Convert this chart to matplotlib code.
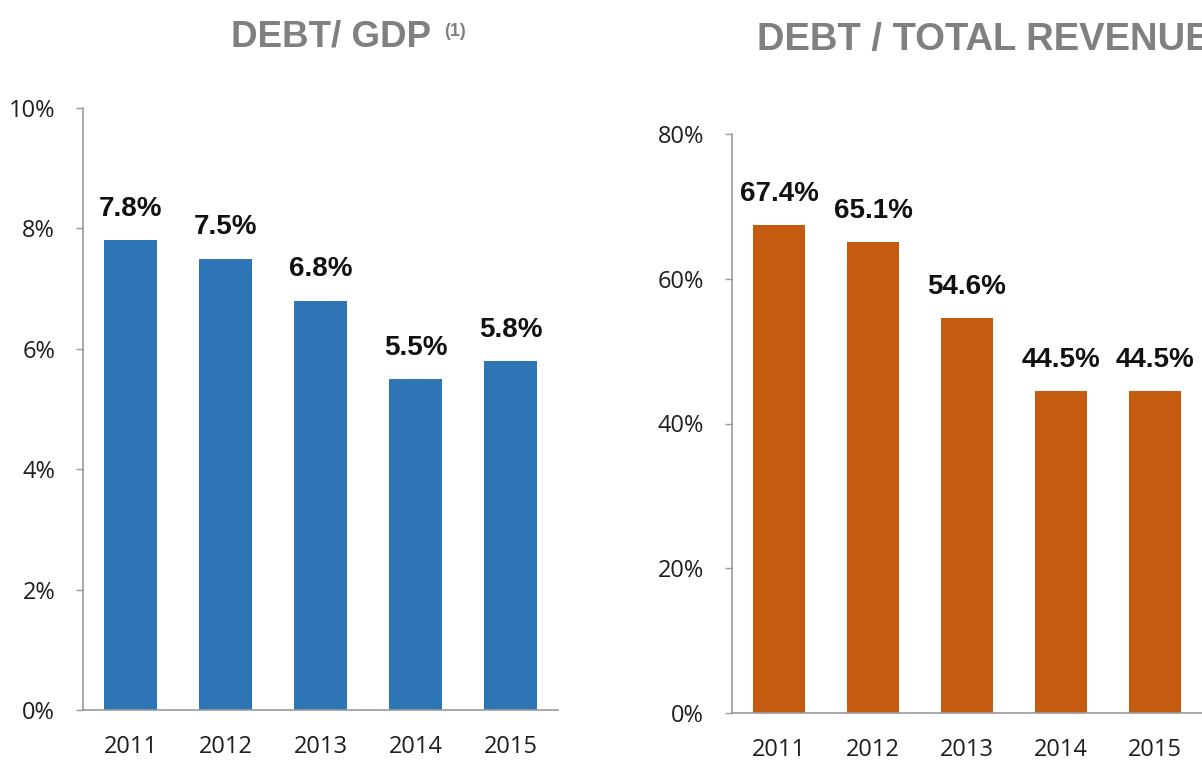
import matplotlib.pyplot as plt
import numpy as np

years = ['2011', '2012', '2013', '2014', '2015']
debt_gdp = [7.8, 7.5, 6.8, 5.5, 5.8]
debt_revenue = [67.4, 65.1, 54.6, 44.5, 44.5]
gdp_ticks = [0, 2, 4, 6, 8, 10]
rev_ticks = [0, 20, 40, 60, 80]

W, H = 1202, 761
fig = plt.figure(figsize=(W / 100, H / 100), dpi=100)

tick_font = 'Open Sans'
val_font = 'Liberation Sans'
axis_col = '#9a9a9a'


def setup(ax, vals, ticks, color):
    x = np.arange(len(vals))
    ax.bar(x, vals, width=0.55, color=color, zorder=2)
    for xi, v in zip(x, vals):
        ax.annotate(f'{v:.1f}%', (xi, v), xytext=(0, 17.5), textcoords='offset points',
                    ha='center', va='baseline', fontsize=20, fontweight='bold',
                    family=val_font, color='#111111')
    ax.set_xlim(-0.5, len(vals) - 0.5)
    ax.set_ylim(ticks[0], ticks[-1])
    ax.set_yticks(ticks)
    ax.set_yticklabels([f'{t}%' for t in ticks], family=tick_font, fontsize=17, color='#1e1e1e')
    ax.set_xticks(x)
    ax.set_xticklabels(years, family=tick_font, fontsize=17, color='#1e1e1e')
    ax.tick_params(axis='x', length=0, pad=18)
    ax.tick_params(axis='y', length=5, width=1, color=axis_col, pad=15)
    for s in ['top', 'right']:
        ax.spines[s].set_visible(False)
    for s in ['left', 'bottom']:
        ax.spines[s].set_color(axis_col)
        ax.spines[s].set_linewidth(1.2)


# left panel: debt / GDP
ax1 = fig.add_axes([83 / W, 1 - 710 / H, 475 / W, 602 / H])
setup(ax1, debt_gdp, gdp_ticks, '#2E75B6')

# right panel: debt / total revenue (cut off at the right edge)
ax2 = fig.add_axes([732 / W, 1 - 713 / H, 470 / W, 579 / H])
setup(ax2, debt_revenue, rev_ticks, '#C55A11')

title_col = '#808080'
fig.text(231 / W, 1 - 37 / H, 'DEBT/ GDP', fontsize=26.5, fontweight='bold',
         family=val_font, color=title_col, va='center', ha='left')
fig.text(444 / W, 1 - 31 / H, '(1)', fontsize=13, fontweight='bold',
         family=val_font, color=title_col, va='center', ha='left')
fig.text(757 / W, 1 - 40 / H, 'DEBT / TOTAL REVENUE', fontsize=27.5, fontweight='bold',
         family=val_font, color=title_col, va='center', ha='left')

fig.savefig('out.png', dpi=100)
